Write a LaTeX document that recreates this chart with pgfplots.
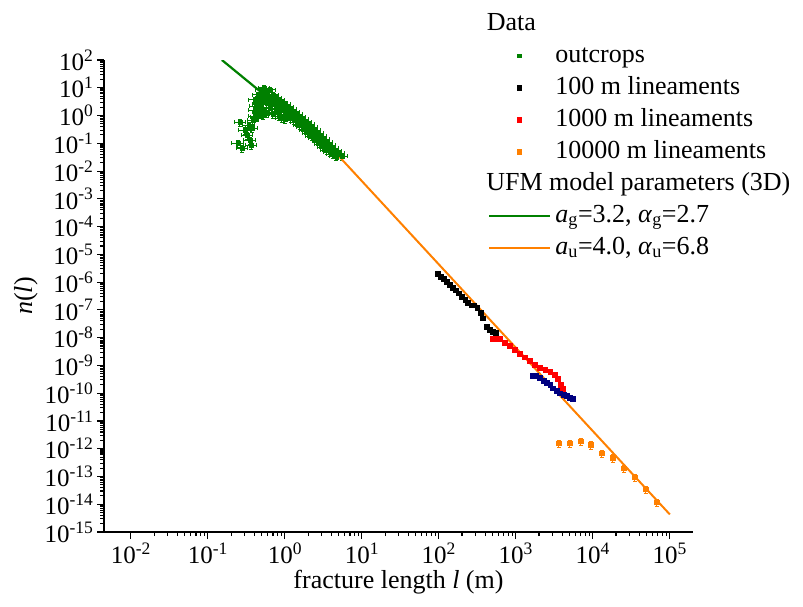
\documentclass[border=0pt]{standalone}
\usepackage{fontspec}
\setmainfont{Liberation Serif}
\usepackage{pgfplots}
\pgfplotsset{compat=1.18}
\definecolor{dgreen}{RGB}{0,128,0}
\definecolor{orng}{RGB}{255,128,0}
\definecolor{navy}{RGB}{0,0,128}
\begin{document}
\begin{tikzpicture}
\useasboundingbox (0,0) rectangle (803pt,-607pt);
\begin{axis}[
  at={(104pt,-532pt)}, anchor=south west,
  width=589pt, height=472pt, scale only axis,
  xmode=log, ymode=log,
  xmin=0.00447, xmax=200000,
  ymin=1e-15, ymax=1e2,
  axis x line*=bottom, axis y line*=left,
  axis line style={line width=1.6pt},
  tick align=outside,
  major tick length=7pt, minor tick length=4pt,
  every tick/.style={black, line width=1.1pt},
  xtick={0.01,0.1,1,10,100,1000,10000,100000},
  ytick={1e-15,1e-14,1e-13,1e-12,1e-11,1e-10,1e-9,1e-8,1e-7,1e-6,1e-5,1e-4,1e-3,1e-2,1e-1,1,10,100},
  xticklabel={\pgfmathtruncatemacro\e{round(\tick/ln(10))}10\textsuperscript{\e}},
  yticklabel={\pgfmathtruncatemacro\e{round(\tick/ln(10))}10\textsuperscript{\e}},
  tick label style={font=\fontsize{25}{28}\selectfont},
  label style={font=\fontsize{26}{30}\selectfont},
  xlabel={fracture length \textit{l} (m)},
  ylabel={\textit{n}(\textit{l})},
  legend style={draw=none, fill=none, at={(0.6469,1.108)}, anchor=north west,
    font=\fontsize{26}{30}\selectfont, row sep=7pt, column sep=4pt,
    nodes={inner sep=0pt, text height=19pt, text depth=6pt}},
  legend cell align=left,
  mkleg/.style={legend image code/.code={\draw[mark repeat=2,mark phase=2,##1] plot coordinates {(0pt,0pt)(30pt,0pt)(61pt,0pt)};}},
  lnleg/.style={legend image code/.code={\draw[##1] (0pt,0pt) -- (61pt,0pt);}},
]
\addlegendimage{empty legend}
\addlegendentry{\makebox[0pt][l]{\hspace*{-69pt}Data}}

\addplot[only marks, mark=square*, mark size=1.9pt, color=dgreen, mkleg,
  error bars/.cd, x dir=both, x fixed relative=0.17, y dir=both, y fixed relative=0.3,
  error bar style={line width=1pt}] table {
x y
0.245 0.100
0.261 0.575
0.277 0.0661
0.302 0.295
0.324 0.195
0.339 0.447
0.351 0.129
0.372 0.355
0.385 0.676
0.363 0.0851
0.407 0.955
0.407 3.63
0.407 1.55
0.420 2.20
0.430 0.90
0.447 5.50
0.447 2.57
0.447 1.32
0.470 3.00
0.470 1.10
0.490 8.32
0.490 4.27
0.490 1.86
0.510 6.00
0.520 1.05
0.537 9.77
0.537 3.63
0.537 1.55
0.560 5.00
0.583 6.92
0.583 2.82
0.583 1.23
0.610 4.50
0.638 8.32
0.638 3.63
0.638 1.86
0.670 4.00
0.698 5.50
0.698 2.57
0.698 1.12
0.730 3.20
0.764 4.27
0.764 2.19
0.764 1.32
0.800 2.80
0.836 3.63
0.836 1.70
0.836 0.955
0.870 2.30
0.914 2.82
0.914 1.55
0.914 0.813
0.950 2.00
1.000 2.57
1.000 1.32
1.000 0.741
1.050 1.40
1.094 2.00
1.094 1.02
1.197 1.70
1.197 0.813
1.250 1.05
1.309 1.32
1.309 0.676
1.370 0.87
1.432 1.12
1.432 0.575
1.500 0.65
1.567 0.871
1.567 0.447
1.640 0.55
1.714 0.741
1.714 0.380
1.800 0.43
1.875 0.575
1.875 0.295
1.960 0.34
2.051 0.490
2.051 0.229
2.150 0.28
2.244 0.380
2.244 0.182
2.350 0.22
2.455 0.295
2.455 0.151
2.570 0.18
2.692 0.229
2.692 0.120
2.810 0.14
2.938 0.182
2.938 0.0933
3.070 0.11
3.206 0.141
3.206 0.0724
3.360 0.088
3.508 0.110
3.508 0.0562
3.670 0.069
3.837 0.0851
3.837 0.0479
4.020 0.054
4.198 0.0661
4.198 0.0407
4.390 0.046
4.592 0.0513
4.592 0.0339
4.800 0.039
5.012 0.0437
5.495 0.0339
};
\addlegendentry{outcrops}

\addplot[only marks, mark=square*, mark size=2.2pt, color=black, mkleg] table {
x y
97.0 2.04e-6
106 1.58e-6
116 1.35e-6
127 1.05e-6
139 8.1e-7
152 6.4e-7
166 5.0e-7
182 3.9e-7
199 3.0e-7
218 2.35e-7
238 1.82e-7
261 1.44e-7
285 1.44e-7
312 1.2e-7
351 7.9e-8
372 4.9e-8
420 2.5e-8
459 1.95e-8
501 1.65e-8
550 1.5e-8
};
\addlegendentry{100 m lineaments}

\addplot[only marks, mark=square*, mark size=2.2pt, color=red, mkleg] table {
x y
501 9.1e-9
560 9.3e-9
620 9.1e-9
720 6.6e-9
835 5.1e-9
970 3.7e-9
1127 2.6e-9
1309 2.0e-9
1521 1.47e-9
1767 1.07e-9
2052 8.3e-10
2384 6.9e-10
2769 5.9e-10
3208 4.6e-10
3508 3.3e-10
3837 2.0e-10
4074 1.45e-10
};
\addlegendentry{1000 m lineaments}

\addplot[only marks, mark=square*, mark size=2.2pt, color=orng, mkleg,
  error bars/.cd, y dir=both, y fixed relative=0.3, error bar style={line width=0.8pt}] table {
x y
3615 1.6e-12
5025 1.6e-12
6985 1.9e-12
9420 1.4e-12
13090 7.0e-13
18200 4.7e-13
25200 2.0e-13
35100 9.5e-14
48800 3.5e-14
67700 1.2e-14
};
\addlegendentry{10000 m lineaments}

\addplot[only marks, mark=square*, mark size=2.2pt, color=navy, forget plot] table {
x y
1663 4.3e-10
1820 4.3e-10
2052 3.6e-10
2312 2.8e-10
2529 2.4e-10
2769 2.0e-10
3020 1.55e-10
3404 1.23e-10
3724 1.02e-10
4198 8.7e-11
4592 8.1e-11
5023 6.8e-11
5495 6.3e-11
};

\addlegendimage{empty legend}
\addlegendentry{\hspace*{-69pt}UFM model parameters (3D)}

\addplot[color=dgreen, line width=2.2pt, lnleg] coordinates {
(0.152,100) (4.9,0.037)
};
\addlegendentry{\textit{a}\textsubscript{g}=3.2, \textit{α}\textsubscript{g}=2.7}

\addplot[color=orng, line width=2pt, lnleg] coordinates {
(4.9,0.037) (100000,4.3e-15)
};
\addlegendentry{\textit{a}\textsubscript{u}=4.0, \textit{α}\textsubscript{u}=6.8}
\end{axis}
\end{tikzpicture}
\end{document}
